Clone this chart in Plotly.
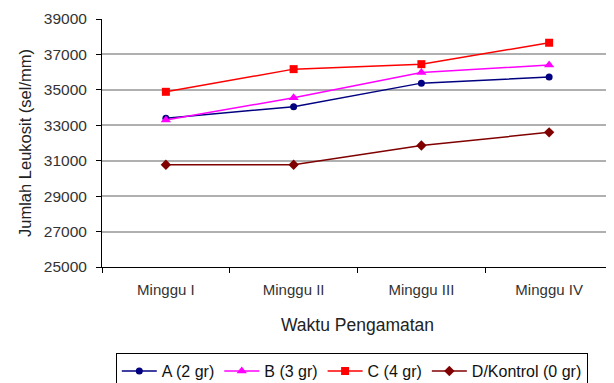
import plotly.graph_objects as go

categories = ["Minggu I", "Minggu II", "Minggu III", "Minggu IV"]
series_names = ["A (2 gr)", "B (3 gr)", "C (4 gr)", "D/Kontrol (0 gr)"]
a_values = [33400, 34050, 35380, 35720]
b_values = [33300, 34550, 35980, 36400]
c_values = [34890, 36170, 36450, 37660]
d_values = [30770, 30770, 31860, 32600]
y_ticks = [25000, 27000, 29000, 31000, 33000, 35000, 37000, 39000]

styles = [
    ("#000080", "circle", 7),
    ("#FF00FF", "triangle-up", 9),
    ("#FF0000", "square", 8),
    ("#800000", "diamond", 8),
]

fig = go.Figure()
for name, vals, (col, sym, sz) in zip(series_names, [a_values, b_values, c_values, d_values], styles):
    fig.add_trace(go.Scatter(
        x=categories, y=vals, name=name, mode="lines+markers",
        line=dict(color=col, width=1.5),
        marker=dict(color=col, symbol=sym, size=sz),
    ))

font = "Arial, Liberation Sans, sans-serif"
# the page body adds an 8px offset, margins compensate for it
fig.update_layout(
    width=614, height=383,
    margin=dict(l=94, r=9, t=11, b=124, autoexpand=False),
    paper_bgcolor="white", plot_bgcolor="white",
    font=dict(family=font, color="#222", size=14),
    showlegend=True,
    legend=dict(
        orientation="h", x=0.027, xanchor="left", y=-0.347, yanchor="top",
        bordercolor="black", borderwidth=1, font=dict(size=16, color="#111"),
        tracegroupgap=0, itemwidth=35,
    ),
    xaxis=dict(
        type="category", range=[-0.5, 3.5], tickson="boundaries",
        showline=True, linecolor="black", linewidth=1, mirror=False,
        ticks="outside", ticklen=5, tickcolor="black",
        showgrid=False, tickfont=dict(size=15, color="#333"),
        ticklabelstandoff=9,
        title=dict(text="Waktu Pengamatan", font=dict(size=17.5, color="#222"), standoff=21),
    ),
    yaxis=dict(
        range=[25000, 39000], tickvals=y_ticks, ticktext=[str(v) for v in y_ticks],
        showline=True, linecolor="black", linewidth=1,
        ticks="outside", ticklen=5, tickcolor="black",
        showgrid=True, gridcolor="#b0b0b0", gridwidth=1.5,
        tickfont=dict(size=15.5, color="#333"),
        ticklabelstandoff=6,
        title=dict(text="Jumlah Leukosit (sel/mm)", font=dict(size=16.5, color="#222"), standoff=8),
        zeroline=False,
    ),
)

fig.write_html("out.html")
